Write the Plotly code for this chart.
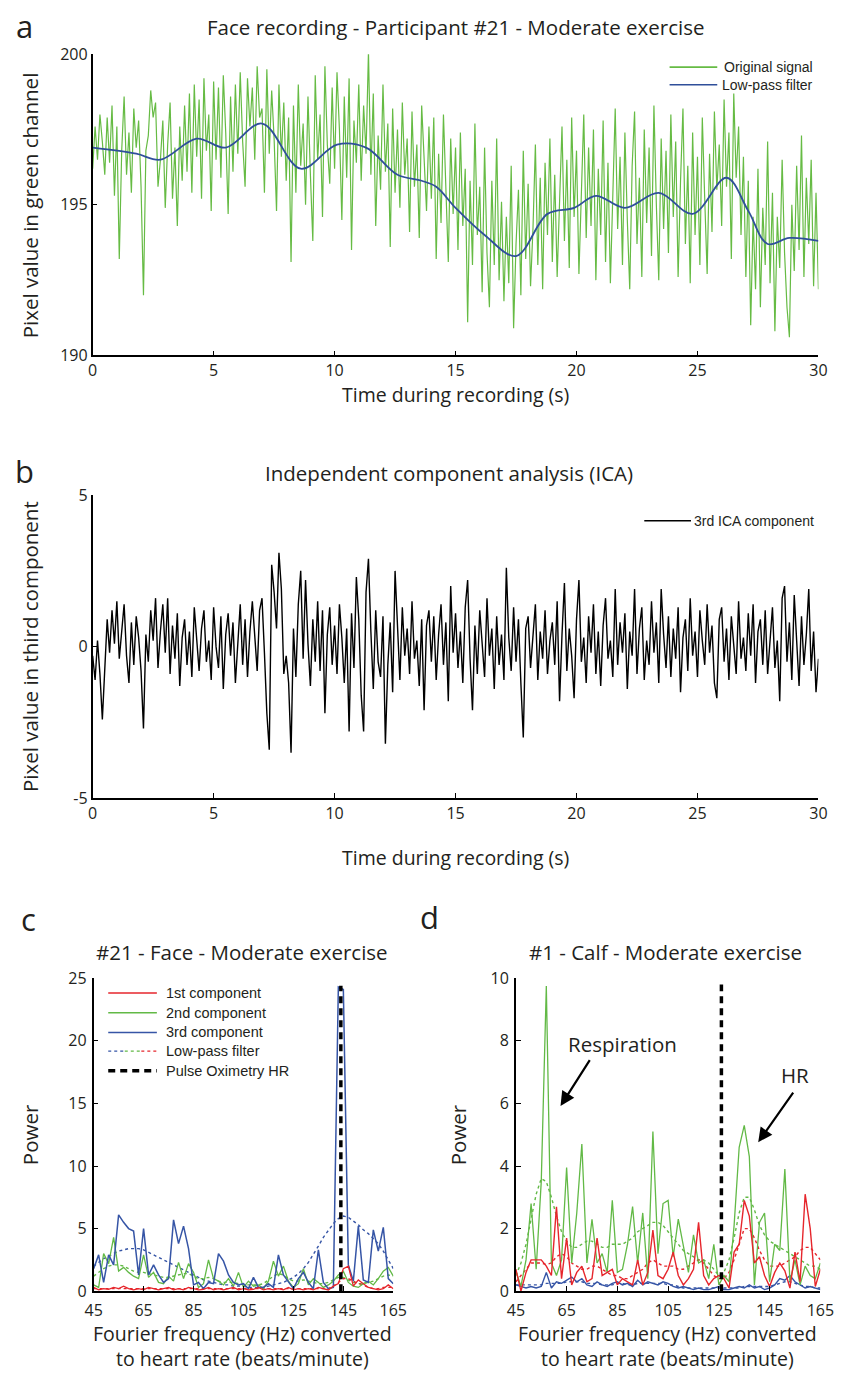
import plotly.graph_objects as go

W, H = 848, 1374
def px(x): return x / W
def py(y): return 1 - y / H

FONT = "Open Sans"
LEGFONT = "Liberation Sans, Arial"
TXT = "#231f20"
GREEN = "#66bb44"
BLUE = "#2f4f9a"
RED = "#e6262c"
C_GREEN = "#62b946"
C_BLUE = "#3655a6"
BIG = 20.5
AX = 19.5

# ---------------- Panel a : green channel (time in s, pixel value) ----------------
time_a = [round(i * 0.1, 1) for i in range(301)]
green_a = [
    196.2, 197.6, 196.5, 198.0, 197.1, 196.0, 197.9, 196.4, 198.3, 195.3,
    197.6, 193.2, 196.8, 198.6, 196.0, 197.4, 195.4, 198.2, 196.9, 197.8,
    195.6, 192.0, 196.8, 197.3, 198.8, 197.9, 198.4, 195.6, 196.5, 197.8,
    194.9, 197.0, 198.4, 195.2, 196.9, 194.3, 197.6, 195.8, 198.3, 196.1,
    198.7, 195.4, 199.0, 196.6, 198.5, 195.2, 199.2, 196.8, 198.0, 194.8,
    199.1, 196.5, 198.9, 195.9, 199.3, 197.4, 194.7, 198.6, 196.1, 199.0,
    196.7, 199.4, 197.1, 195.6, 199.2, 197.6, 198.9, 196.5, 199.6, 197.9,
    198.2, 195.4, 199.5, 196.7, 198.8, 197.2, 194.8, 199.0, 196.6, 198.4,
    195.8, 197.9, 193.1, 198.3, 195.4, 199.0, 196.3, 197.7, 195.0, 198.6,
    196.0, 193.8, 199.3, 196.5, 198.0, 194.6, 199.6, 197.0, 195.7, 198.9,
    196.2, 199.4, 197.5, 194.5, 198.6, 195.9, 199.2, 193.5, 197.8, 196.4,
    199.0, 195.8, 198.3, 196.7, 200.1, 196.0, 198.7, 194.3, 197.3, 195.5,
    199.0, 196.1, 197.7, 193.6, 198.2, 195.4, 197.5, 194.9, 198.4, 196.0,
    197.2, 194.1, 198.1, 195.6, 197.0, 193.9, 198.3, 196.3, 194.8, 197.6,
    195.2, 197.9, 193.2, 196.7, 194.4, 198.0, 195.6, 193.1, 197.2, 194.7,
    196.9, 193.5, 197.4, 194.3, 196.2, 191.1, 195.8, 193.0, 197.7, 194.0,
    195.6, 192.1, 196.9, 193.4, 191.6, 195.8, 193.0, 197.2, 192.5, 195.1,
    191.8, 194.6, 192.4, 196.3, 190.9, 193.7, 195.5, 192.0, 196.8, 193.2,
    195.7, 192.3, 194.2, 197.0, 193.0, 195.9, 192.2, 196.4, 194.0, 197.2,
    193.1, 196.0, 192.6, 195.2, 197.6, 193.8, 196.5, 192.9, 197.9, 194.6,
    196.8, 192.7, 195.4, 198.0, 193.9, 196.9, 194.3, 197.5, 192.5, 196.2,
    194.0, 197.8, 193.1, 196.4, 192.4, 195.8, 198.2, 194.2, 196.6, 193.0,
    197.4, 194.5, 192.2, 196.3, 198.1, 193.7, 195.9, 192.6, 197.5, 194.4,
    196.9, 193.3, 198.3, 195.0, 192.5, 197.2, 194.2, 196.8, 193.4, 198.0,
    194.6, 197.1, 192.6, 195.8, 198.2, 193.7, 196.3, 192.4, 197.4, 194.0,
    196.6, 193.0, 197.9, 195.2, 192.7, 196.7, 194.1, 198.1, 195.5, 197.0,
    194.3, 198.5, 195.6, 197.4, 193.2, 198.7, 195.9, 197.6, 194.0, 196.6,
    192.6, 195.8, 191.0, 194.6, 192.2, 196.2, 191.6, 194.9, 193.0, 197.1,
    192.4, 195.4, 190.8, 194.6, 192.9, 196.5, 193.4, 191.6, 190.6, 195.0,
    192.8, 196.3, 193.5, 197.3, 192.6, 195.9, 193.7, 196.5, 192.3, 195.4,
    192.2,
]
lowpass_t = [0, 1.8, 2.8, 4.3, 5.5, 7.0, 8.6, 10.1, 11.3, 12.6, 13.6, 14.2, 15.0,
             16.2, 17.5, 18.8, 19.9, 20.8, 22.0, 23.4, 24.8, 26.2, 27.1, 27.9, 28.8, 30]
lowpass_v = [196.9, 196.7, 196.5, 197.2, 196.9, 197.7, 196.2, 197.0, 196.9, 196.0, 195.8, 195.6, 194.9,
             194.0, 193.3, 194.7, 194.9, 195.3, 194.9, 195.4, 194.7, 195.9, 194.8, 193.7, 193.9, 193.8]

# ---------------- Panel b : 3rd ICA component ----------------
time_b = [round(i * 0.1, 1) for i in range(301)]
ica3 = [
    -0.3, -1.1, 0.2, -0.9, -2.4, -0.5, 0.9, -0.2, 1.2, 0.1,
    1.5, -0.4, 0.6, 1.4, -0.3, -1.2, 0.8, -0.6, 1.0, 0.3,
    -0.8, -2.7, 0.4, -0.5, 1.2, 0.2, 1.6, -0.7, 0.5, 1.4,
    -0.2, 1.6, -0.9, 0.7, -0.4, 1.1, -1.3, 0.3, 0.9, -0.6,
    0.5, -1.0, 1.3, 0.1, -0.8, 0.6, 1.2, -0.5, 0.2, -1.1,
    1.3, 0.0, -0.7, 1.0, -1.4, 0.4, 1.1, -0.3, 0.8, -1.2,
    0.2, 1.4, -0.6, 0.9, -1.0, 0.5, 1.5, 0.3, -0.8, 1.2,
    1.6, -0.2, -2.2, -3.4, 2.7, 1.8, 0.6, 3.1, 1.9, -0.9,
    -0.3, -1.2, -3.5, 0.6, -1.0, 1.4, 2.5, -0.4, 2.2, 0.1,
    -1.3, 0.9, -0.5, 1.5, -0.8, 1.2, -2.2, 0.4, 1.3, -0.6,
    0.7, -0.9, 1.4, 0.3, -1.2, 0.6, -2.8, 1.1, -0.7, 2.3,
    0.9, -1.6, -2.8, 1.8, 2.9, 0.5, -1.4, 1.2, -0.5, -1.0,
    1.0, -3.2, -0.6, 0.8, -1.5, 2.5, 0.4, -1.1, 1.3, -0.3,
    0.6, -0.9, 1.5, -0.4, 0.2, -1.3, 0.9, -2.1, 0.7, 1.2,
    -0.5, 1.0, -1.1, 0.4, 1.4, -0.6, 0.8, -1.8, 2.0, -0.2,
    1.1, -0.7, 0.5, -1.2, 1.3, 2.2, -0.4, -2.1, 0.7, -0.9,
    1.2, 0.1, -1.0, 1.6, -0.3, 0.6, -1.4, 1.0, -0.6, 0.4,
    -1.1, 2.6, 0.3, -0.8, 1.3, -0.5, 0.9, -1.2, -3.0, 0.6,
    1.0, -0.7, 0.3, 1.4, -1.1, 0.5, -0.4, 1.2, -0.9, 0.2,
    0.8, -0.6, 1.5, -1.8, 0.4, 2.1, -0.8, 0.6, -0.3, -1.7,
    0.9, 2.2, -0.5, 0.3, -1.2, 1.0, -0.2, 1.4, -0.9, 0.5,
    -1.3, 0.7, 1.6, -0.4, 0.2, -1.0, 1.9, -0.6, 0.8, -0.2,
    1.1, -1.4, 0.5, -0.3, 1.9, -0.9, 0.6, 1.3, -1.1, 0.2,
    -0.6, 1.5, -0.2, 0.8, -1.2, 1.9, 0.4, -0.7, 1.0, -1.0,
    0.6, -0.4, 1.3, -1.5, 0.3, 0.9, -0.8, 1.6, -0.3, 0.5,
    -1.0, 1.2, 0.2, -0.6, 1.4, -0.2, 0.7, -1.2, -1.7, 0.9,
    1.3, -0.5, 0.6, -1.1, 1.0, 0.1, -0.9, 1.5, -0.4, 0.3,
    -0.8, 1.1, -0.3, 1.4, -1.2, 0.5, 0.9, -0.6, 1.2, -0.9,
    0.4, 1.3, -0.7, 0.2, -1.8, 1.6, 2.0, -0.5, 0.8, -1.1,
    1.7, 0.3, -1.3, 1.0, -0.6, 0.4, 1.9, -0.8, 0.5, -1.5,
    -0.4,
]

# ---------------- Panels c & d : power spectra (bpm) ----------------
bpm = list(range(45, 166, 2))

c_comp1 = [0.3, 0.1, 0.2, 0.15, 0.3, 0.2, 0.4, 0.2, 0.1, 0.2, 0.1, 0.3, 0.2, 0.1, 0.2, 0.3,
           0.1, 0.2, 0.1, 0.3, 0.2, 0.1, 0.15, 0.3, 0.1, 0.2, 0.1, 0.2, 0.3, 0.1, 0.2, 0.1,
           0.15, 0.3, 0.1, 0.2, 0.1, 0.2, 0.1, 0.3, 0.1, 0.2, 0.1, 0.2, 0.1, 0.3, 0.2, 0.1,
           0.4, 0.6, 1.8, 2.0, 0.4, 0.9, 0.6, 0.3, 0.2, 0.1, 0.2, 0.5, 0.2]
c_comp2 = [0.5, 0.3, 3.0, 2.2, 4.3, 1.6, 1.9, 1.5, 1.2, 1.0, 2.9, 1.1, 1.5, 0.7, 0.6, 1.2,
           0.8, 2.3, 1.0, 2.2, 1.5, 0.3, 0.6, 2.5, 1.0, 0.8, 0.5, 1.0, 0.4, 1.5, 0.3, 0.8,
           0.4, 0.5, 0.2, 0.8, 2.4, 1.2, 2.0, 0.8, 0.3, 0.6, 1.8, 0.5, 1.0, 0.7, 0.3, 0.5,
           0.8, 1.3, 1.6, 0.7, 0.4, 0.3, 0.6, 0.8, 0.5, 1.0, 1.6, 1.9, 1.2]
c_comp3 = [1.8, 2.9, 0.7, 2.9, 2.1, 6.1, 5.5, 5.0, 4.8, 1.3, 5.0, 1.3, 2.1, 1.3, 0.7, 1.0,
           5.7, 3.8, 5.2, 3.4, 0.5, 0.7, 0.2, 0.7, 0.6, 3.0, 2.4, 1.3, 0.7, 0.5, 0.6, 0.2,
           1.1, 0.3, 0.3, 0.6, 0.3, 2.9, 1.3, 0.7, 0.2, 1.0, 1.5, 0.7, 0.2, 3.3, 0.7, 0.2,
           0.3, 24.3, 24.1, 2.1, 0.8, 5.2, 0.9, 0.7, 4.9, 3.2, 5.1, 1.0, 0.6]
c_lp1 = [0.2, 0.2, 0.2, 0.2, 0.2, 0.2, 0.2, 0.2, 0.2, 0.2, 0.2, 0.2, 0.2, 0.2, 0.2, 0.2,
         0.2, 0.2, 0.2, 0.2, 0.2, 0.2, 0.2, 0.2, 0.2, 0.2, 0.2, 0.2, 0.2, 0.2, 0.2, 0.2,
         0.2, 0.2, 0.2, 0.2, 0.2, 0.2, 0.2, 0.2, 0.2, 0.2, 0.2, 0.2, 0.2, 0.2, 0.2, 0.2,
         0.4, 0.7, 1.0, 1.0, 0.8, 0.6, 0.5, 0.3, 0.2, 0.2, 0.3, 0.3, 0.3]
c_lp2 = [1.2, 1.5, 1.8, 2.0, 2.1, 2.1, 2.0, 1.8, 1.6, 1.5, 1.5, 1.4, 1.3, 1.2, 1.1, 1.1,
         1.2, 1.3, 1.4, 1.4, 1.2, 1.0, 1.0, 1.1, 1.0, 0.8, 0.7, 0.7, 0.7, 0.6, 0.5, 0.5,
         0.5, 0.5, 0.6, 0.9, 1.2, 1.4, 1.3, 1.0, 0.8, 0.8, 0.9, 0.8, 0.7, 0.6, 0.6, 0.7,
         0.9, 1.1, 1.1, 0.9, 0.7, 0.6, 0.6, 0.7, 0.8, 1.0, 1.2, 1.3, 1.2]
c_lp3 = [2.0, 2.3, 2.6, 2.8, 3.0, 3.2, 3.3, 3.4, 3.4, 3.4, 3.3, 3.1, 2.9, 2.7, 2.5, 2.3,
         2.1, 1.9, 1.7, 1.5, 1.3, 1.1, 0.9, 0.8, 0.7, 0.6, 0.5, 0.5, 0.4, 0.4, 0.4, 0.3,
         0.3, 0.3, 0.3, 0.4, 0.5, 0.6, 0.7, 0.9, 1.1, 1.4, 1.8, 2.3, 2.9, 3.6, 4.3, 4.9,
         5.4, 5.8, 6.0, 5.9, 5.6, 5.3, 4.9, 4.6, 4.2, 3.8, 3.2, 2.5, 1.8]
c_pulse_hr = 144
c_pulse_top = 24.4

d_comp1 = [0.7, 0.0, 0.6, 1.0, 1.0, 1.0, 0.8, 0.5, 2.7, 0.4, 1.7, 0.2, 0.6, 0.8, 0.3, 0.4,
           1.7, 0.5, 0.6, 0.7, 0.2, 0.4, 0.3, 0.2, 1.0, 0.2, 0.6, 1.95, 0.5, 0.4, 0.7, 1.25,
           0.5, 0.2, 0.4, 0.7, 2.2, 0.5, 0.2, 0.4, 0.5, 0.4, 0.1, 1.25, 1.5, 2.9, 2.4, 0.9,
           1.1, 0.5, 0.15, 0.6, 0.9, 0.65, 0.1, 1.25, 0.3, 3.1, 2.0, 0.15, 0.7]
d_comp2 = [0.65, 0.15, 1.0, 2.8, 0.7, 3.5, 9.75, 0.9, 0.5, 1.0, 3.95, 0.9, 2.5, 4.7, 0.9, 2.3,
           0.9, 1.2, 0.6, 2.9, 0.6, 0.7, 1.5, 2.7, 0.9, 2.5, 0.4, 5.1, 1.2, 2.8, 2.9, 1.1,
           2.3, 1.4, 0.6, 1.8, 0.9, 1.0, 0.4, 1.5, 0.2, 0.5, 0.3, 2.1, 4.6, 5.3, 4.3, 0.2,
           2.2, 2.5, 0.3, 1.5, 1.3, 3.9, 0.3, 1.0, 0.2, 0.8, 0.5, 0.4, 0.9]
d_comp3 = [0.2, 0.15, 0.1, 0.15, 0.1, 0.15, 0.6, 0.1, 0.3, 0.25, 0.35, 0.45, 0.3, 0.4, 0.2, 0.15,
           0.3, 0.2, 0.15, 0.25, 0.3, 0.2, 0.25, 0.15, 0.35, 0.2, 0.3, 0.25, 0.2, 0.3, 0.25, 0.15,
           0.1, 0.15, 0.1, 0.05, 0.1, 0.05, 0.05, 0.1, 0.15, 0.05, 0.05, 0.1, 0.15, 0.1, 0.2, 0.1,
           0.15, 0.05, 0.1, 0.2, 0.4, 0.35, 0.5, 0.3, 0.2, 0.1, 0.15, 0.1, 0.05]
d_lp1 = [0.3, 0.5, 0.7, 0.9, 0.9, 0.9, 0.85, 0.9, 1.1, 1.2, 1.1, 0.9, 0.8, 0.7, 0.7, 0.8,
         0.8, 0.7, 0.6, 0.5, 0.5, 0.4, 0.4, 0.5, 0.6, 0.7, 0.9, 1.0, 0.9, 0.8, 0.8, 0.8,
         0.7, 0.7, 0.8, 0.9, 1.0, 0.9, 0.7, 0.5, 0.4, 0.4, 0.6, 1.0, 1.5, 2.0, 2.0, 1.7,
         1.3, 1.0, 0.8, 0.8, 0.8, 0.9, 1.0, 1.1, 1.3, 1.4, 1.4, 1.2, 1.0]
d_lp2 = [0.5, 0.9, 1.5, 2.3, 3.1, 3.6, 3.5, 3.0, 2.4, 1.9, 1.6, 1.4, 1.4, 1.5, 1.6, 1.6,
         1.5, 1.4, 1.4, 1.5, 1.5, 1.5, 1.6, 1.7, 1.9, 2.0, 2.1, 2.2, 2.2, 2.1, 1.9, 1.7,
         1.5, 1.3, 1.2, 1.1, 1.0, 1.0, 0.9, 0.7, 0.5, 0.6, 1.0, 1.7, 2.5, 3.0, 3.0, 2.6,
         2.1, 1.8, 1.6, 1.5, 1.4, 1.3, 1.2, 1.1, 1.0, 0.9, 0.8, 0.8, 0.7]
d_lp3 = [0.2, 0.2, 0.2, 0.2, 0.2, 0.2, 0.25, 0.25, 0.25, 0.25, 0.3, 0.3, 0.3, 0.3, 0.25, 0.25,
         0.25, 0.2, 0.2, 0.2, 0.25, 0.25, 0.2, 0.2, 0.25, 0.25, 0.25, 0.25, 0.25, 0.25, 0.2, 0.2,
         0.15, 0.1, 0.1, 0.1, 0.1, 0.1, 0.1, 0.1, 0.1, 0.1, 0.1, 0.1, 0.1, 0.15, 0.15, 0.15,
         0.15, 0.15, 0.15, 0.2, 0.25, 0.3, 0.3, 0.25, 0.2, 0.15, 0.15, 0.1, 0.1]
d_pulse_hr = 126
d_pulse_top = 9.8

# ---------------- figure ----------------
fig = go.Figure()

def line(x, y, color, width, xa, ya, dash="solid", shape="linear"):
    fig.add_trace(go.Scatter(x=x, y=y, mode="lines", xaxis=xa, yaxis=ya, showlegend=False,
                             hoverinfo="skip",
                             line=dict(color=color, width=width, dash=dash, shape=shape)))

# a
line(time_a, green_a, GREEN, 1.2, "x", "y")
line(lowpass_t, lowpass_v, BLUE, 1.8, "x", "y", shape="spline")
# b
line(time_b, ica3, "black", 1.4, "x2", "y2")
# c
line(bpm, c_lp3, C_BLUE, 1.4, "x3", "y3", dash="dot")
line(bpm, c_lp2, C_GREEN, 1.4, "x3", "y3", dash="dot")
line(bpm, c_lp1, RED, 1.4, "x3", "y3", dash="dot")
line(bpm, c_comp2, C_GREEN, 1.3, "x3", "y3")
line(bpm, c_comp3, C_BLUE, 1.5, "x3", "y3")
line(bpm, c_comp1, RED, 1.3, "x3", "y3")
line([c_pulse_hr, c_pulse_hr], [0, c_pulse_top], "black", 3.5, "x3", "y3", dash="7px,5px")
# d
line(bpm, d_lp3, C_BLUE, 1.4, "x4", "y4", dash="dot")
line(bpm, d_lp2, C_GREEN, 1.4, "x4", "y4", dash="dot")
line(bpm, d_lp1, RED, 1.4, "x4", "y4", dash="dot")
line(bpm, d_comp3, C_BLUE, 1.4, "x4", "y4")
line(bpm, d_comp2, C_GREEN, 1.3, "x4", "y4")
line(bpm, d_comp1, RED, 1.4, "x4", "y4")
line([d_pulse_hr, d_pulse_hr], [0, d_pulse_top], "black", 3.5, "x4", "y4", dash="7px,5px")


def axis(domain, rng, tickvals, anchor, ticktext=None, standoff=0):
    d = dict(domain=domain, range=rng, tickvals=tickvals, anchor=anchor,
             showline=True, linecolor="black", linewidth=1.6, ticks="inside",
             ticklen=5, tickwidth=1.3, tickcolor="black", showgrid=False,
             zeroline=False, fixedrange=True, ticklabelstandoff=standoff,
             tickfont=dict(family=FONT, size=16, color=TXT))
    if ticktext is not None:
        d["ticktext"] = ticktext
    return d

xa_dom = [px(86), px(832)]
fig.update_layout(
    width=W, height=H, margin=dict(l=0, r=0, t=0, b=0),
    paper_bgcolor="white", plot_bgcolor="white", showlegend=False,
    xaxis=axis(xa_dom, [0, 30], [0, 5, 10, 15, 20, 25, 30], "y"),
    yaxis=axis([py(350), py(44)], [190, 200], [190, 195, 200], "x"),
    xaxis2=axis(xa_dom, [0, 30], [0, 5, 10, 15, 20, 25, 30], "y2"),
    yaxis2=axis([py(800), py(492)], [-5, 5], [-5, 0, 5], "x2", ["-5", "0", "5"]),
    xaxis3=axis([px(87), px(395)], [45, 165], [45, 65, 85, 105, 125, 145, 165], "y3", standoff=4),
    yaxis3=axis([py(1301), py(983)], [0, 25], [0, 5, 10, 15, 20, 25], "x3", standoff=2),
    xaxis4=axis([px(521), px(834)], [45, 165], [45, 65, 85, 105, 125, 145, 165], "y4", standoff=4),
    yaxis4=axis([py(1301), py(983)], [0, 10], [0, 2, 4, 6, 8, 10], "x4", standoff=2),
)

ann = []
def text(x, y, s, size=BIG, angle=0, family=FONT, xanchor="center"):
    ann.append(dict(x=px(x), y=py(y), xref="paper", yref="paper", text=s, showarrow=False,
                    textangle=angle, xanchor=xanchor, yanchor="middle",
                    font=dict(family=family, size=size, color=TXT)))

# panel letters
text(16, 15, "a", 31)
text(16, 467, "b", 31)
text(20, 923, "c", 31)
text(432, 921, "d", 31)
# titles
text(459, 16, "Face recording - Participant #21 - Moderate exercise")
text(452, 470, "Independent component analysis (ICA)")
text(240, 956, "#21 - Face - Moderate exercise")
text(675, 956, "#1 - Calf - Moderate exercise")
# axis titles
text(21, 197, "Pixel value in green channel", angle=-90)
text(459, 390, "Time during recording (s)", AX)
text(21, 646, "Pixel value in third component", angle=-90)
text(459, 860, "Time during recording (s)", AX)
text(21, 1142, "Power", angle=-90)
text(461, 1142, "Power", angle=-90)
for cx in (240, 677):
    text(cx, 1357, "Fourier frequency (Hz) converted<br>to heart rate (beats/minute)", AX)

# legends (drawn manually)
shapes = []
def leg_line(x0, x1, y, color, width=1.5, dash="solid"):
    shapes.append(dict(type="line", xref="paper", yref="paper", x0=px(x0), x1=px(x1),
                       y0=py(y), y1=py(y), line=dict(color=color, width=width, dash=dash)))

leg_line(679, 728, 57, GREEN, 1.6)
text(828, 57, "Original signal", 14, family=LEGFONT, xanchor="right")
leg_line(679, 728, 75, BLUE, 1.6)
text(828, 75, "Low-pass filter", 14, family=LEGFONT, xanchor="right")

leg_line(653, 701, 518, "black", 1.6)
text(829, 518, "3rd ICA component", 14, family=LEGFONT, xanchor="right")

c_rows = [998, 1018, 1038, 1057, 1077]
LX0, LX1, LT = 102, 152, 159
leg_line(LX0, LX1, c_rows[0], RED, 1.5)
text(LT, c_rows[0], "1st component", 14.5, family=LEGFONT, xanchor="left")
leg_line(LX0, LX1, c_rows[1], C_GREEN, 1.5)
text(LT, c_rows[1], "2nd component", 14.5, family=LEGFONT, xanchor="left")
leg_line(LX0, LX1, c_rows[2], C_BLUE, 1.5)
text(LT, c_rows[2], "3rd component", 14.5, family=LEGFONT, xanchor="left")
leg_line(LX0, 118, c_rows[3], C_BLUE, 1.3, "dot")
leg_line(119, 135, c_rows[3], C_GREEN, 1.3, "dot")
leg_line(136, LX1, c_rows[3], RED, 1.3, "dot")
text(LT, c_rows[3], "Low-pass filter", 14.5, family=LEGFONT, xanchor="left")
leg_line(LX0, LX1, c_rows[4], "black", 3.5, "7px,5px")
text(LT, c_rows[4], "Pulse Oximetry HR", 14.5, family=LEGFONT, xanchor="left")

# annotations with arrows in panel d
ann.append(dict(x=87.2, y=7.9, xref="x4", yref="y4", text="Respiration", showarrow=False,
                font=dict(family=FONT, size=BIG, color=TXT)))
ann.append(dict(x=155.0, y=6.9, xref="x4", yref="y4", text="HR", showarrow=False,
                font=dict(family=FONT, size=BIG, color=TXT)))
ann.append(dict(x=62.6, y=5.92, ax=74.5, ay=7.43, xref="x4", yref="y4", axref="x4", ayref="y4",
                text="", showarrow=True, arrowhead=2, arrowsize=1.3, arrowwidth=2.2,
                arrowcolor="black", standoff=0, startstandoff=0))
ann.append(dict(x=140.5, y=4.76, ax=154.7, ay=6.39, xref="x4", yref="y4", axref="x4", ayref="y4",
                text="", showarrow=True, arrowhead=2, arrowsize=1.3, arrowwidth=2.2,
                arrowcolor="black", standoff=0, startstandoff=0))

fig.update_layout(annotations=ann, shapes=shapes)
fig.write_html("out.html")
